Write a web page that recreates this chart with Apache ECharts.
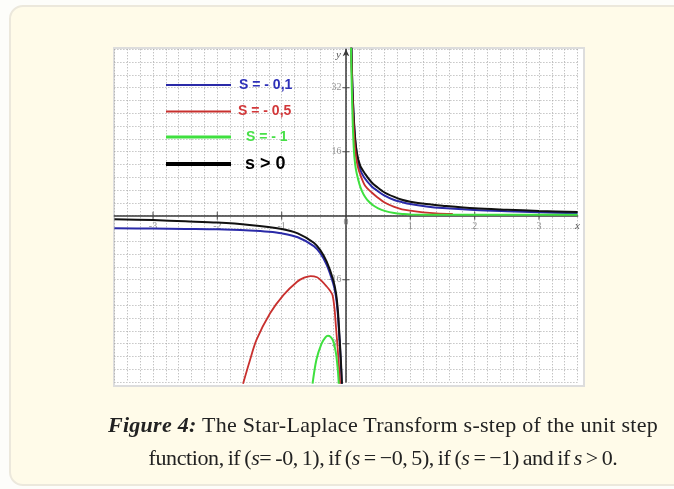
<!DOCTYPE html>
<html>
<head>
<meta charset="utf-8">
<script src="https://cdn.jsdelivr.net/npm/echarts@6/dist/echarts.min.js"></script>
<style>
  html, body { margin: 0; padding: 0; width: 674px; height: 489px; overflow: hidden; background: #fdfdfa; }
  .card { position: absolute; left: 9px; top: 5px; width: 780px; height: 477px; background: #fffbe9;
          border: 2px solid #ece8dc; border-radius: 14px; }
  .plotbox { position: absolute; left: 113px; top: 47px; width: 468px; height: 336px; background: #fff;
             border: 2px solid #dddddd; }
  #chart { position: absolute; left: 0; top: 0; width: 674px; height: 489px; }
  .caption { position: absolute; left: 0; width: 766px; top: 408px; text-align: center;
             font-family: "Liberation Serif", serif; font-size: 22px; line-height: 33px; color: #222; }
  .caption span { display: block; white-space: nowrap; }
  .caption .l1 { letter-spacing: 0.27px; }
  .caption .l2 { letter-spacing: -0.4px; word-spacing: -1.2px; }
  .caption b { font-style: italic; }
</style>
</head>
<body>
<div class="card"></div>
<div class="plotbox"></div>
<div id="chart"></div>
<div class="caption"><span class="l1"><b>Figure 4:</b> The Star-Laplace Transform s-step of the unit step</span><span class="l2">function, if (<i>s</i>= -0, 1), if (<i>s</i> = −0, 5), if (<i>s</i> = −1) and if <i>s</i> &gt; 0.</span></div>
<script>
// Axis tick labels
const xTickLabels = [-3, -2, -1, 0, 1, 2, 3];
const yTickLabels = [-32, -16, 16, 32];

// s = -0,1 (blue)
const sMinus01Neg = [[-3.6, -3.15], [-3, -3.2], [-2.5, -3.3], [-2, -3.4], [-1.5, -3.7], [-1.2, -4.0], [-1.0, -4.4],
  [-0.75, -5.4], [-0.5, -7.6], [-0.4, -9.4], [-0.3, -12.3], [-0.2, -16.9], [-0.16, -19.8], [-0.13, -24],
  [-0.107, -29.4], [-0.083, -36], [-0.066, -42]];
const sMinus01Pos = [[0.083, 42], [0.10, 32], [0.13, 21.5], [0.163, 16], [0.21, 12], [0.28, 9.6], [0.40, 7.3],
  [0.48, 6.3], [0.6, 5.0], [0.74, 4.0], [0.87, 3.4], [1.0, 2.9], [1.25, 2.3], [1.5, 1.9], [2.0, 1.4],
  [2.5, 1.1], [3.0, 0.85], [3.6, 0.6]];

// s = -0,5 (red)
const sMinus05Neg = [[-1.6, -42], [-1.5, -36.5], [-1.39, -31], [-1.18, -24.4], [-0.97, -19.8], [-0.76, -16.5],
  [-0.65, -15.5], [-0.55, -15.1], [-0.45, -15.4], [-0.38, -16.3], [-0.3, -17.7], [-0.25, -18.7], [-0.21, -19.8],
  [-0.18, -23], [-0.155, -28], [-0.13, -33], [-0.11, -37.5], [-0.092, -42]];
const sMinus05Pos = [[0.08, 42], [0.095, 32], [0.12, 22], [0.146, 16], [0.18, 12.5], [0.228, 10], [0.3, 7.4],
  [0.4, 5.8], [0.477, 4.75], [0.6, 3.3], [0.75, 2.2], [0.87, 1.6], [1.0, 1.25], [1.2, 0.85], [1.4, 0.6],
  [1.66, 0.45]];

// s = -1 (green)
const sMinus1Neg = [[-0.52, -42], [-0.46, -36], [-0.38, -32], [-0.32, -30.4], [-0.28, -30], [-0.24, -30.3],
  [-0.2, -31.3], [-0.16, -34], [-0.13, -38], [-0.112, -42]];
const sMinus1Pos = [[0.078, 42], [0.09, 32], [0.105, 23], [0.124, 16], [0.145, 12.5], [0.166, 10.6],
  [0.21, 7.8], [0.25, 6.1], [0.295, 4.75], [0.35, 3.6], [0.42, 2.6], [0.5, 1.85], [0.6, 1.2], [0.75, 0.65],
  [0.9, 0.4], [1.0, 0.3], [1.5, 0.25], [2.5, 0.25], [3.6, 0.25]];

// s > 0 (black)
const sPositiveNeg = [[-3.6, -0.9], [-3, -1.1], [-2.5, -1.4], [-2, -1.7], [-1.5, -2.3], [-1.0, -3.3],
  [-0.75, -4.4], [-0.5, -6.75], [-0.4, -8.6], [-0.3, -11.5], [-0.2, -16], [-0.155, -19.4], [-0.125, -24],
  [-0.104, -29.4], [-0.08, -36], [-0.063, -42]];
const sPositivePos = [[0.085, 42], [0.10, 32], [0.13, 22], [0.166, 16], [0.22, 12.5], [0.30, 10.4],
  [0.40, 8.3], [0.48, 7.2], [0.6, 5.8], [0.74, 4.75], [0.87, 4.0], [1.0, 3.5], [1.25, 2.9], [1.5, 2.5],
  [2.0, 1.85], [2.5, 1.5], [3.0, 1.2], [3.6, 0.9]];

const BLUE = '#2a2aa8', RED = '#c8302e', GREEN = '#3fe03f', BLACK = '#111111';
const LABEL_FONT = { color: '#777777', fontSize: 10, fontFamily: 'Liberation Serif' };

function curve(data, color, width) {
  return {
    type: 'line', data: data, showSymbol: false, smooth: 0.3,
    clip: false, silent: true, animation: false,
    lineStyle: { color: color, width: width }
  };
}

const chart = echarts.init(document.getElementById('chart'), null, { renderer: 'canvas' });
chart.setOption({
  backgroundColor: 'transparent',
  animation: false,
  grid: { left: 114.4, right: 96.4, top: 49.3, bottom: 106.9 },
  xAxis: {
    type: 'value', min: -3.6, max: 3.6, interval: 0.2,
    axisLine: { onZero: true, lineStyle: { color: '#3a3a3a', width: 1.5 } },
    axisTick: { show: false },
    axisLabel: { show: false },
    splitLine: { show: true, lineStyle: { color: '#a9a9a9', width: 1, type: [1, 2] } }
  },
  yAxis: {
    type: 'value', min: -41.6, max: 41.6, interval: 3.2,
    axisLine: { onZero: true, symbol: ['none', 'arrow'], symbolSize: [5, 7],
                lineStyle: { color: '#3a3a3a', width: 1.5 } },
    axisTick: { show: false },
    axisLabel: { show: false },
    splitLine: { show: true, lineStyle: { color: '#a9a9a9', width: 1, type: [1, 2] } }
  },
  series: [
    // integer ticks and labels on the x axis
    { type: 'scatter', data: xTickLabels.map(v => [v, 0]), symbol: 'rect',
      symbolSize: v => (v[0] === 0 ? 0 : [1.2, 8]), itemStyle: { color: '#444' }, silent: true, z: 1,
      label: { show: true, position: 'bottom', distance: 2, ...LABEL_FONT,
               formatter: p => String(p.value[0]) } },
    // ticks and labels on the y axis
    { type: 'scatter', data: yTickLabels.map(v => [0, v]), symbol: 'rect', symbolSize: [7, 1.2],
      itemStyle: { color: '#444' }, silent: true, z: 1,
      label: { show: true, position: 'left', distance: 1, ...LABEL_FONT,
               formatter: p => String(p.value[1]) } },
    curve(sMinus01Neg, BLUE, 2), curve(sMinus01Pos, BLUE, 2),
    curve(sPositiveNeg, BLACK, 2), curve(sPositivePos, BLACK, 2),
    curve(sMinus05Neg, RED, 1.8), curve(sMinus05Pos, RED, 1.8),
    curve(sMinus1Neg, GREEN, 2), curve(sMinus1Pos, GREEN, 2)
  ],
  graphic: [
    { type: 'line', z: 100, shape: { x1: 166, y1: 85, x2: 231, y2: 85 }, style: { stroke: BLUE, lineWidth: 2 } },
    { type: 'line', z: 100, shape: { x1: 166, y1: 111.5, x2: 231, y2: 111.5 }, style: { stroke: RED, lineWidth: 2 } },
    { type: 'line', z: 100, shape: { x1: 166, y1: 137, x2: 231, y2: 137 }, style: { stroke: GREEN, lineWidth: 3 } },
    { type: 'line', z: 100, shape: { x1: 166, y1: 164, x2: 231, y2: 164 }, style: { stroke: '#000', lineWidth: 4 } },
    { type: 'text', z: 100, style: { text: 'S = - 0,1', x: 239, y: 85, verticalAlign: 'middle', fill: '#2d30b8',
        font: 'bold 14px "Liberation Sans"' } },
    { type: 'text', z: 100, style: { text: 'S = - 0,5', x: 238, y: 111.5, verticalAlign: 'middle', fill: '#d2383a',
        font: 'bold 14px "Liberation Sans"' } },
    { type: 'text', z: 100, style: { text: 'S = - 1', x: 246, y: 137, verticalAlign: 'middle', fill: '#48e048',
        font: 'bold 14px "Liberation Sans"' } },
    { type: 'text', z: 100, style: { text: 's > 0', x: 245, y: 164, verticalAlign: 'middle', fill: '#000',
        font: 'bold 18px "Liberation Sans"' } },
    { type: 'text', z: 100, style: { text: 'y', x: 336, y: 55, verticalAlign: 'middle', fill: '#555',
        font: 'italic 11px "Liberation Serif"' } },
    { type: 'text', z: 100, style: { text: 'x', x: 575, y: 226, verticalAlign: 'middle', fill: '#555',
        font: 'italic 11px "Liberation Serif"' } }
  ]
});
</script>
</body>
</html>
